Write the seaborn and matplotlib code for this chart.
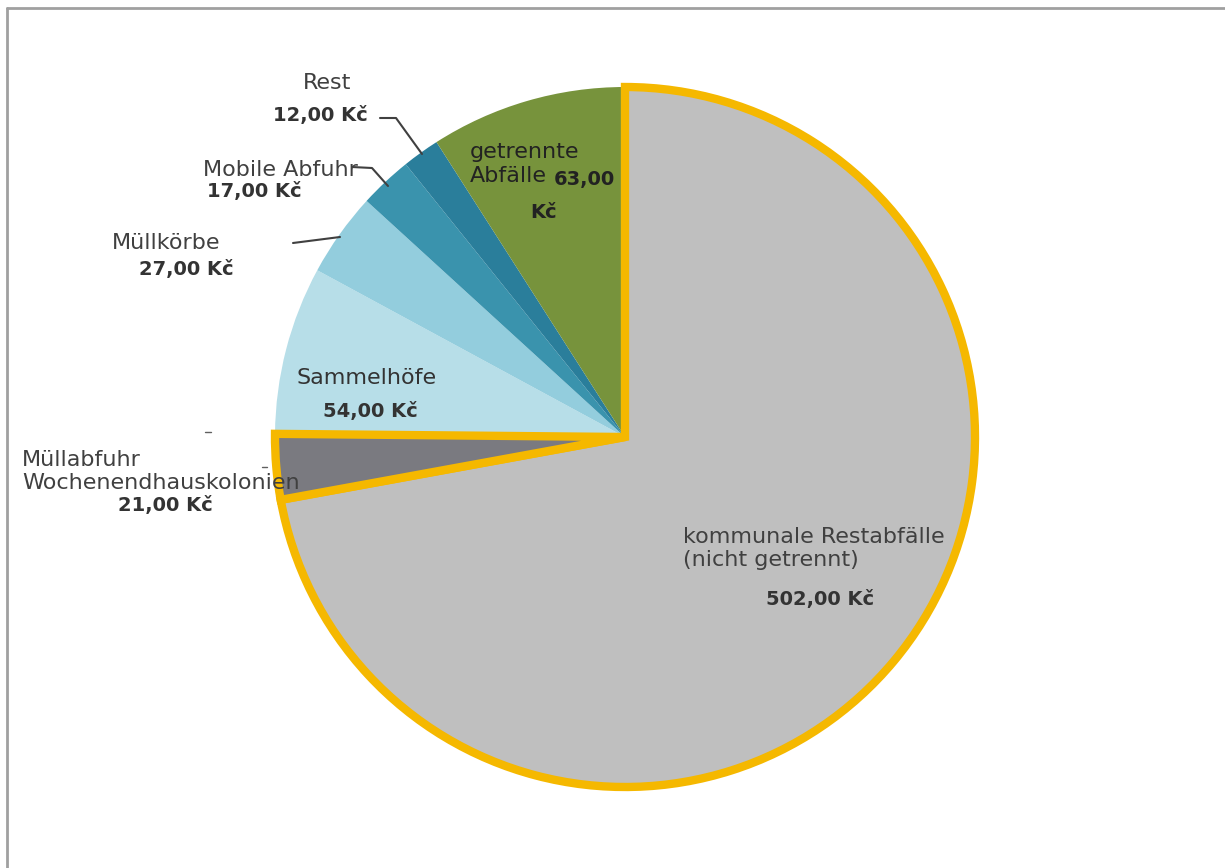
import matplotlib
matplotlib.use("Agg")
import matplotlib.pyplot as plt
import seaborn as sns

sns.set_theme(style="white")
plt.rcParams['font.family'] = ['DejaVu Sans']

categories = ["kommunale Restabfälle\n(nicht getrennt)", "Müllabfuhr\nWochenendhauskolonien",
              "Sammelhöfe", "Müllkörbe", "Mobile Abfuhr", "Rest", "getrennte\nAbfälle"]
values = [502, 21, 54, 27, 17, 12, 63]
value_labels = ["502,00 Kč", "21,00 Kč", "54,00 Kč", "27,00 Kč", "17,00 Kč", "12,00 Kč", "63,00"]
colors = ["#BFBFBF", "#7A7A80", "#B7DEE8", "#93CDDD", "#3A93AD", "#2A7E9B", "#77933C"]
highlight = [True, True, False, False, False, False, False]

W, H = 1225, 868
fig = plt.figure(figsize=(W / 100, H / 100), dpi=100)
ax = fig.add_axes([0, 0, 1, 1])

cx, cy, R = 625, 437, 350
# y axis is flipped (pixel coordinates), so counterclock=True with startangle=-90
# appears clockwise starting from the top
wedges, _ = ax.pie(values, colors=colors, startangle=-90, counterclock=True,
                   center=(cx, cy), radius=R, frame=True,
                   wedgeprops=dict(linewidth=0))
ax.set_xlim(0, W)
ax.set_ylim(H, 0)
ax.set_aspect('equal')
ax.axis('off')
for w, hl in zip(wedges, highlight):
    if hl:
        w.set_edgecolor("#F5B800")
        w.set_linewidth(6)
        w.set_zorder(5)

txt = "#404040"
val = "#333333"
fs = 16
fv = 14


def lab(x, y, s, ha='center', color=txt):
    ax.text(x, y, s, fontsize=fs, color=color, ha=ha, va='center', zorder=10)


def vlab(x, y, s, ha='center', color=val):
    ax.text(x, y, s, fontsize=fv, color=color, fontweight='bold', ha=ha, va='center', zorder=10)


# kommunale Restabfälle
lab(683, 537, "kommunale Restabfälle", ha='left')
lab(683, 560, "(nicht getrennt)", ha='left')
vlab(820, 600, value_labels[0])
# Müllabfuhr Wochenendhauskolonien
lab(22, 460, "Müllabfuhr", ha='left')
lab(22, 483, "Wochenendhauskolonien", ha='left')
vlab(165, 505, value_labels[1])
ax.plot([205, 211], [432, 432], color="#606060", lw=1, zorder=10)
ax.plot([262, 267], [467, 467], color="#606060", lw=1, zorder=10)
# Sammelhöfe
lab(367, 378, "Sammelhöfe", color=val)
vlab(370, 412, value_labels[2])
# Müllkörbe
lab(166, 243, "Müllkörbe")
vlab(186, 270, value_labels[3])
ax.plot([293, 340], [243, 237], color="#404040", lw=1.5, zorder=10)
# Mobile Abfuhr
lab(280, 170, "Mobile Abfuhr")
vlab(254, 191, value_labels[4])
ax.plot([352, 372, 388], [167, 168, 186], color="#404040", lw=1.5, zorder=10)
# Rest
lab(327, 83, "Rest")
vlab(320, 115, value_labels[5])
ax.plot([380, 396, 422], [118, 118, 154], color="#404040", lw=1.5, zorder=10)
# getrennte Abfälle
lab(470, 152, "getrennte", ha='left', color="#222222")
lab(470, 176, "Abfälle", ha='left', color="#222222")
vlab(554, 180, value_labels[6], ha='left', color="#222222")
vlab(544, 213, "Kč", color="#222222")

# outer frame
ax.plot([7, W], [8, 8], color="#A0A0A0", lw=2, zorder=1)
ax.plot([7, 7], [8, H], color="#A0A0A0", lw=2, zorder=1)

fig.savefig("out.png", dpi=100)
